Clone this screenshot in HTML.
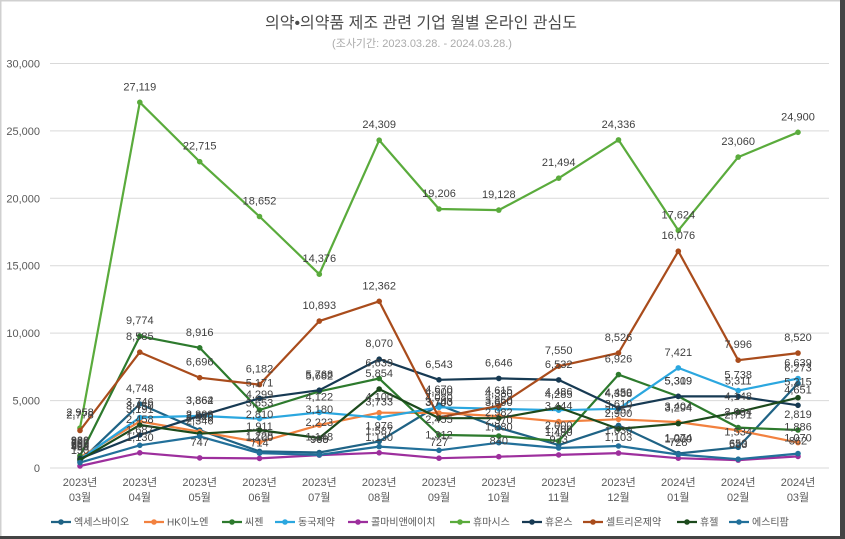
<!DOCTYPE html>
<html><head><meta charset="utf-8">
<style>
html,body{margin:0;padding:0;background:#fff;}
body{width:845px;height:539px;overflow:hidden;position:relative;}
svg{position:absolute;left:0;top:0;}
.t{font-family:"Liberation Sans","Noto Sans CJK KR",sans-serif;}
</style></head>
<body>
<svg width="845" height="539" viewBox="0 0 845 539" xmlns="http://www.w3.org/2000/svg">
<defs>
<marker id="m1" markerUnits="userSpaceOnUse" markerWidth="8" markerHeight="8" refX="4" refY="4"><circle cx="4" cy="4" r="2.8" fill="#1f6385"/></marker>
<marker id="m2" markerUnits="userSpaceOnUse" markerWidth="8" markerHeight="8" refX="4" refY="4"><circle cx="4" cy="4" r="2.8" fill="#f2813f"/></marker>
<marker id="m3" markerUnits="userSpaceOnUse" markerWidth="8" markerHeight="8" refX="4" refY="4"><circle cx="4" cy="4" r="2.8" fill="#2d7a2d"/></marker>
<marker id="m4" markerUnits="userSpaceOnUse" markerWidth="8" markerHeight="8" refX="4" refY="4"><circle cx="4" cy="4" r="2.8" fill="#2ba7df"/></marker>
<marker id="m5" markerUnits="userSpaceOnUse" markerWidth="8" markerHeight="8" refX="4" refY="4"><circle cx="4" cy="4" r="2.8" fill="#9d2f9d"/></marker>
<marker id="m6" markerUnits="userSpaceOnUse" markerWidth="8" markerHeight="8" refX="4" refY="4"><circle cx="4" cy="4" r="2.8" fill="#5aab3c"/></marker>
<marker id="m7" markerUnits="userSpaceOnUse" markerWidth="8" markerHeight="8" refX="4" refY="4"><circle cx="4" cy="4" r="2.8" fill="#173a53"/></marker>
<marker id="m8" markerUnits="userSpaceOnUse" markerWidth="8" markerHeight="8" refX="4" refY="4"><circle cx="4" cy="4" r="2.8" fill="#a94c1c"/></marker>
<marker id="m9" markerUnits="userSpaceOnUse" markerWidth="8" markerHeight="8" refX="4" refY="4"><circle cx="4" cy="4" r="2.8" fill="#1c4a1c"/></marker>
<marker id="m10" markerUnits="userSpaceOnUse" markerWidth="8" markerHeight="8" refX="4" refY="4"><circle cx="4" cy="4" r="2.8" fill="#22709a"/></marker>
</defs>

<!-- frame -->
<rect x="0" y="0" width="845" height="539" fill="#fff"/>
<rect x="0" y="0" width="845" height="1.5" fill="#d0d0d0"/>
<rect x="0" y="0" width="1.5" height="539" fill="#d0d0d0"/>
<rect x="840" y="0" width="5" height="539" fill="#444"/>
<rect x="0" y="536" width="845" height="3" fill="#444"/>

<!-- title -->
<text class="t" x="421" y="28" text-anchor="middle" font-size="16" fill="#4a4a4a">의약•의약품 제조 관련 기업 월별 온라인 관심도</text>
<text class="t" x="422" y="47" text-anchor="middle" font-size="11" fill="#ababab">(조사기간: 2023.03.28. - 2024.03.28.)</text>

<!-- gridlines -->
<g stroke="#d9d9d9" stroke-width="1">
<line x1="50" y1="63.5" x2="829" y2="63.5"/>
<line x1="50" y1="130.9" x2="829" y2="130.9"/>
<line x1="50" y1="198.3" x2="829" y2="198.3"/>
<line x1="50" y1="265.7" x2="829" y2="265.7"/>
<line x1="50" y1="333.1" x2="829" y2="333.1"/>
<line x1="50" y1="400.6" x2="829" y2="400.6"/>
<line x1="50" y1="468" x2="829" y2="468"/>
</g>

<!-- y labels -->
<g class="t" font-size="11" fill="#595959" text-anchor="end">
<text x="40" y="67.5">30,000</text>
<text x="40" y="134.9">25,000</text>
<text x="40" y="202.3">20,000</text>
<text x="40" y="269.7">15,000</text>
<text x="40" y="337.1">10,000</text>
<text x="40" y="404.6">5,000</text>
<text x="40" y="472">0</text>
</g>

<!-- x labels -->
<g class="t" font-size="11" fill="#595959" text-anchor="middle">
<text x="80" y="486">2023년</text><text x="80" y="501">03월</text>
<text x="139.8" y="486">2023년</text><text x="139.8" y="501">04월</text>
<text x="199.7" y="486">2023년</text><text x="199.7" y="501">05월</text>
<text x="259.5" y="486">2023년</text><text x="259.5" y="501">06월</text>
<text x="319.3" y="486">2023년</text><text x="319.3" y="501">07월</text>
<text x="379.2" y="486">2023년</text><text x="379.2" y="501">08월</text>
<text x="439" y="486">2023년</text><text x="439" y="501">09월</text>
<text x="498.8" y="486">2023년</text><text x="498.8" y="501">10월</text>
<text x="558.7" y="486">2023년</text><text x="558.7" y="501">11월</text>
<text x="618.5" y="486">2023년</text><text x="618.5" y="501">12월</text>
<text x="678.3" y="486">2024년</text><text x="678.3" y="501">01월</text>
<text x="738.2" y="486">2024년</text><text x="738.2" y="501">02월</text>
<text x="798" y="486">2024년</text><text x="798" y="501">03월</text>
</g>

<!-- series -->
<g fill="none" stroke-width="2.2" stroke-linejoin="round">
<polyline stroke="#1f6385" marker-start="url(#m1)" marker-mid="url(#m1)" marker-end="url(#m1)" points="80,461.3 139.8,404 199.7,430.1 259.5,451.4 319.3,452.5 379.2,441.4 439,405 498.8,427.8 558.7,445.1 618.5,425.4 678.3,453.5 738.2,447.3 798,383.4"/>
<polyline stroke="#f2813f" marker-start="url(#m2)" marker-mid="url(#m2)" marker-end="url(#m2)" points="80,457.2 139.8,421.5 199.7,431.7 259.5,442.2 319.3,425.1 379.2,412.7 439,413 498.8,416.1 558.7,421.6 618.5,419.3 678.3,422.1 738.2,430.4 798,442.6"/>
<polyline stroke="#2d7a2d" marker-start="url(#m3)" marker-mid="url(#m3)" marker-end="url(#m3)" points="80,455.9 139.8,336.2 199.7,347.8 259.5,410 319.3,391.4 379.2,378.5 439,434.9 498.8,436 558.7,441 618.5,374.6 678.3,396.4 738.2,427.6 798,430"/>
<polyline stroke="#2ba7df" marker-start="url(#m4)" marker-mid="url(#m4)" marker-end="url(#m4)" points="80,459.2 139.8,417.5 199.7,415.9 259.5,418.7 319.3,412.4 379.2,417.7 439,407.3 498.8,408.9 558.7,410.2 618.5,408.8 678.3,367.9 738.2,390.6 798,378.5"/>
<polyline stroke="#9d2f9d" marker-start="url(#m5)" marker-mid="url(#m5)" marker-end="url(#m5)" points="80,466 139.8,452.8 199.7,457.9 259.5,458.4 319.3,455.1 379.2,452.8 439,458.2 498.8,456.7 558.7,454.9 618.5,453.1 678.3,458.2 738.2,460.1 798,456.4"/>
<polyline stroke="#5aab3c" marker-start="url(#m6)" marker-mid="url(#m6)" marker-end="url(#m6)" points="80,428.1 139.8,102.3 199.7,161.7 259.5,216.5 319.3,274.2 379.2,140.2 439,209 498.8,210.1 558.7,178.2 618.5,139.9 678.3,230.4 738.2,157.1 798,132.3"/>
<polyline stroke="#173a53" marker-start="url(#m7)" marker-mid="url(#m7)" marker-end="url(#m7)" points="80,458.6 139.8,434.9 199.7,415.9 259.5,398.3 319.3,390.2 379.2,359.2 439,379.8 498.8,378.4 558.7,379.9 618.5,408 678.3,396.3 738.2,396.4 798,405.3"/>
<polyline stroke="#a94c1c" marker-start="url(#m8)" marker-mid="url(#m8)" marker-end="url(#m8)" points="80,430.5 139.8,352.2 199.7,377.7 259.5,384.6 319.3,321.1 379.2,301.3 439,417.5 498.8,405.8 558.7,366.2 618.5,353 678.3,251.2 738.2,360.2 798,353.1"/>
<polyline stroke="#1c4a1c" marker-start="url(#m9)" marker-mid="url(#m9)" marker-end="url(#m9)" points="80,459.9 139.8,425 199.7,433.7 259.5,430.1 319.3,438 379.2,389.1 439,418.1 498.8,418.2 558.7,407.5 618.5,428.9 678.3,423.6 738.2,412.1 798,397.7"/>
<polyline stroke="#22709a" marker-start="url(#m10)" marker-mid="url(#m10)" marker-end="url(#m10)" points="80,462.6 139.8,445.3 199.7,436.4 259.5,453.2 319.3,454.9 379.2,446.6 439,450.3 498.8,442.7 558.7,448 618.5,446 678.3,454.5 738.2,459.2 798,453.6"/>
</g>

<!-- data labels -->
<g class="t" font-size="11" fill="#404040" text-anchor="middle">
<text x="80" y="449.3">500</text><text x="139.8" y="392">4,748</text><text x="199.7" y="418.1">2,808</text><text x="259.5" y="439.4">1,228</text><text x="319.3" y="440.5">1,148</text><text x="379.2" y="429.4">1,976</text><text x="439" y="393">4,670</text><text x="498.8" y="415.8">2,982</text><text x="558.7" y="433.1">1,700</text><text x="618.5" y="413.4">3,157</text><text x="678.3" y="441.5">1,074</text><text x="738.2" y="435.3">1,534</text><text x="798" y="371.4">6,273</text>
<text x="80" y="445.2">800</text><text x="139.8" y="409.5">3,450</text><text x="199.7" y="419.7">2,690</text><text x="259.5" y="430.2">1,911</text><text x="319.3" y="413.1">3,180</text><text x="379.2" y="400.7">4,100</text><text x="439" y="401">4,080</text><text x="498.8" y="404.1">3,850</text><text x="558.7" y="409.6">3,444</text><text x="618.5" y="407.3">3,610</text><text x="678.3" y="410.1">3,404</text><text x="738.2" y="418.4">2,791</text><text x="798" y="430.6">1,886</text>
<text x="80" y="443.9">920</text><text x="139.8" y="324.2">9,774</text><text x="199.7" y="335.8">8,916</text><text x="259.5" y="398">4,299</text><text x="319.3" y="379.4">5,682</text><text x="379.2" y="366.5">6,639</text><text x="439" y="422.9">2,455</text><text x="498.8" y="424">2,370</text><text x="558.7" y="429">2,000</text><text x="618.5" y="362.6">6,926</text><text x="678.3" y="384.4">5,309</text><text x="738.2" y="415.6">2,994</text><text x="798" y="418">2,819</text>
<text x="80" y="447.2">650</text><text x="139.8" y="405.5">3,746</text><text x="199.7" y="403.9">3,862</text><text x="259.5" y="406.7">3,653</text><text x="319.3" y="400.4">4,122</text><text x="379.2" y="405.7">3,733</text><text x="439" y="395.3">4,500</text><text x="498.8" y="396.9">4,380</text><text x="558.7" y="398.2">4,285</text><text x="618.5" y="396.8">4,388</text><text x="678.3" y="355.9">7,421</text><text x="738.2" y="378.6">5,738</text><text x="798" y="366.5">6,639</text>
<text x="80" y="454">150</text><text x="139.8" y="440.8">1,130</text><text x="199.7" y="445.9">747</text><text x="259.5" y="446.4">714</text><text x="319.3" y="443.1">960</text><text x="379.2" y="440.8">1,130</text><text x="439" y="446.2">727</text><text x="498.8" y="444.7">840</text><text x="558.7" y="442.9">973</text><text x="618.5" y="441.1">1,103</text><text x="678.3" y="446.2">728</text><text x="738.2" y="448.1">583</text><text x="798" y="444.4">862</text>
<text x="80" y="416.1">2,958</text><text x="139.8" y="90.3">27,119</text><text x="199.7" y="149.7">22,715</text><text x="259.5" y="204.5">18,652</text><text x="319.3" y="262.2">14,376</text><text x="379.2" y="128.2">24,309</text><text x="439" y="197">19,206</text><text x="498.8" y="198.1">19,128</text><text x="558.7" y="166.2">21,494</text><text x="618.5" y="127.9">24,336</text><text x="678.3" y="218.4">17,624</text><text x="738.2" y="145.1">23,060</text><text x="798" y="120.3">24,900</text>
<text x="80" y="446.6">700</text><text x="139.8" y="422.9">2,458</text><text x="199.7" y="403.9">3,864</text><text x="259.5" y="386.3">5,171</text><text x="319.3" y="378.2">5,768</text><text x="379.2" y="347.2">8,070</text><text x="439" y="367.8">6,543</text><text x="498.8" y="366.4">6,646</text><text x="558.7" y="367.9">6,532</text><text x="618.5" y="396">4,450</text><text x="678.3" y="384.3">5,319</text><text x="738.2" y="384.4">5,311</text><text x="798" y="393.3">4,651</text>
<text x="80" y="418.5">2,778</text><text x="139.8" y="340.2">8,585</text><text x="199.7" y="365.7">6,696</text><text x="259.5" y="372.6">6,182</text><text x="319.3" y="309.1">10,893</text><text x="379.2" y="289.3">12,362</text><text x="439" y="405.5">3,743</text><text x="498.8" y="393.8">4,615</text><text x="558.7" y="354.2">7,550</text><text x="618.5" y="341">8,526</text><text x="678.3" y="239.2">16,076</text><text x="738.2" y="348.2">7,996</text><text x="798" y="341.1">8,520</text>
<text x="80" y="447.9">600</text><text x="139.8" y="413">3,191</text><text x="199.7" y="421.7">2,546</text><text x="259.5" y="418.1">2,810</text><text x="319.3" y="426">2,223</text><text x="379.2" y="377.1">5,854</text><text x="439" y="406.1">3,700</text><text x="498.8" y="406.2">3,690</text><text x="558.7" y="395.5">4,486</text><text x="618.5" y="416.9">2,900</text><text x="678.3" y="411.6">3,294</text><text x="738.2" y="400.1">4,148</text><text x="798" y="385.7">5,215</text>
<text x="80" y="450.6">400</text><text x="139.8" y="433.3">1,687</text><text x="199.7" y="424.4">2,346</text><text x="259.5" y="441.2">1,100</text><text x="319.3" y="442.9">968</text><text x="379.2" y="434.6">1,587</text><text x="439" y="438.3">1,312</text><text x="498.8" y="430.7">1,880</text><text x="558.7" y="436">1,480</text><text x="618.5" y="434">1,630</text><text x="678.3" y="442.5">1,000</text><text x="738.2" y="447.2">650</text><text x="798" y="441.6">1,070</text>
</g>

<!-- legend -->
<g stroke-width="2.2">
<line x1="51" y1="522" x2="71" y2="522" stroke="#1f6385"/><circle cx="61" cy="522" r="2.8" fill="#1f6385"/>
<line x1="144" y1="522" x2="164" y2="522" stroke="#f2813f"/><circle cx="154" cy="522" r="2.8" fill="#f2813f"/>
<line x1="222" y1="522" x2="242" y2="522" stroke="#2d7a2d"/><circle cx="232" cy="522" r="2.8" fill="#2d7a2d"/>
<line x1="275" y1="522" x2="295" y2="522" stroke="#2ba7df"/><circle cx="285" cy="522" r="2.8" fill="#2ba7df"/>
<line x1="348" y1="522" x2="368" y2="522" stroke="#9d2f9d"/><circle cx="358" cy="522" r="2.8" fill="#9d2f9d"/>
<line x1="450" y1="522" x2="470" y2="522" stroke="#5aab3c"/><circle cx="460" cy="522" r="2.8" fill="#5aab3c"/>
<line x1="522" y1="522" x2="542" y2="522" stroke="#173a53"/><circle cx="532" cy="522" r="2.8" fill="#173a53"/>
<line x1="583" y1="522" x2="603" y2="522" stroke="#a94c1c"/><circle cx="593" cy="522" r="2.8" fill="#a94c1c"/>
<line x1="677" y1="522" x2="697" y2="522" stroke="#1c4a1c"/><circle cx="687" cy="522" r="2.8" fill="#1c4a1c"/>
<line x1="729" y1="522" x2="749" y2="522" stroke="#22709a"/><circle cx="739" cy="522" r="2.8" fill="#22709a"/>
</g>
<g class="t" font-size="10" fill="#595959">
<text x="74" y="525.5">엑세스바이오</text>
<text x="167" y="525.5">HK이노엔</text>
<text x="245" y="525.5">씨젠</text>
<text x="298" y="525.5">동국제약</text>
<text x="371" y="525.5">콜마비앤에이치</text>
<text x="473" y="525.5">휴마시스</text>
<text x="545" y="525.5">휴온스</text>
<text x="606" y="525.5">셀트리온제약</text>
<text x="700" y="525.5">휴젤</text>
<text x="752" y="525.5">에스티팜</text>
</g>
</svg>
</body></html>
